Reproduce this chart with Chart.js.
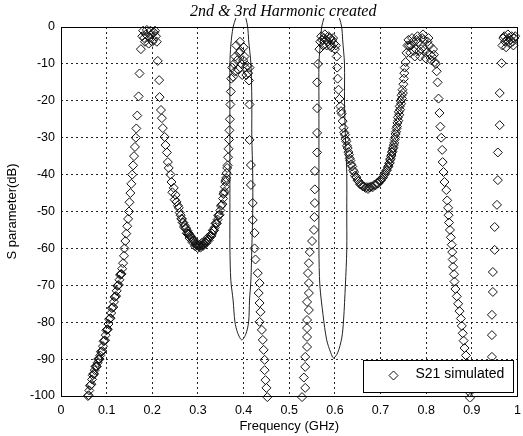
<!DOCTYPE html>
<html><head><meta charset="utf-8">
<script src="https://cdn.jsdelivr.net/npm/chart.js@4.4.0/dist/chart.umd.min.js"></script>
<style>html,body{margin:0;padding:0;background:#fff;overflow:hidden}</style>
</head><body>
<canvas id="c" width="523" height="436"></canvas>
<script>
// ---- tick values / labels ----
const xTicks = [0,0.1,0.2,0.3,0.4,0.5,0.6,0.7,0.8,0.9,1];
const xTickLabels = ['0','0.1','0.2','0.3','0.4','0.5','0.6','0.7','0.8','0.9','1'];
const yTicks = [0,-10,-20,-30,-40,-50,-60,-70,-80,-90,-100];
const yTickLabels = ['0','-10','-20','-30','-40','-50','-60','-70','-80','-90','-100'];

// ---- S21 simulated (frequency in GHz, value in dB) ----
const freq = [
 0.059,0.062,0.065,0.068,0.071,0.074,0.077,0.080,0.083,0.086,0.089,0.092,0.095,0.098,0.101,0.104,0.107,0.110,0.113,0.116,0.119,0.122,0.125,0.128,0.131,0.134,
 0.136,0.138,0.139,0.141,0.143,0.145,0.147,0.149,0.150,0.152,0.154,0.156,0.158,0.160,0.162,0.164,0.165,0.167,0.170,0.172,0.175,
 0.178,0.180,0.182,0.184,0.186,0.188,0.190,0.192,0.194,0.196,0.198,0.200,0.202,0.204,0.206,0.208,0.210,
 0.212,0.215,0.216,0.219,0.221,0.223,0.227,0.229,0.232,0.234,0.236,0.240,0.242,0.247,0.251,0.253,0.258,0.262,0.265,0.268,0.271,0.274,0.277,0.280,0.283,0.286,0.289,0.292,0.295,0.298,0.301,
 0.304,0.307,0.310,0.313,0.316,0.319,0.322,0.325,0.328,0.331,0.334,0.337,0.340,0.343,0.346,0.349,0.352,0.355,0.357,0.359,0.361,0.363,0.365,0.366,0.367,0.368,0.369,0.370,0.371,0.372,
 0.373,0.375,0.377,0.379,0.381,0.382,0.384,0.386,0.388,0.390,0.392,0.393,0.395,0.397,0.399,0.400,0.402,0.404,0.406,0.408,0.410,0.412,0.413,
 0.413,0.413,0.416,0.416,0.420,0.420,0.424,0.424,0.426,0.431,0.435,0.433,0.435,0.437,0.435,0.440,0.442,0.444,0.446,0.446,0.448,0.450,0.452,
 0.528,0.535,0.532,0.535,0.535,0.539,0.539,0.539,0.539,0.543,0.539,0.543,0.543,0.541,0.543,0.545,0.550,0.554,0.555,0.556,0.556,0.556,0.561,0.561,0.561,0.561,0.563,
 0.566,0.568,0.570,0.572,0.574,0.576,0.578,0.580,0.582,0.584,0.586,0.588,0.590,0.592,0.594,0.596,0.598,0.600,0.602,
 0.604,0.605,0.606,0.608,0.610,0.612,0.615,0.617,0.619,0.622,0.625,0.628,0.631,0.634,0.638,0.642,0.647,0.652,0.658,0.664,0.670,0.675,
 0.680,0.686,0.692,0.698,0.703,0.708,0.712,0.716,0.719,0.721,0.723,0.725,0.727,0.729,0.731,0.733,0.735,0.737,0.738,0.740,0.742,0.744,0.746,0.748,0.750,0.751,0.752,0.753,0.755,
 0.757,0.759,0.761,0.763,0.765,0.767,0.769,0.771,0.773,0.775,0.777,0.779,0.781,0.783,0.785,0.787,0.789,0.791,0.793,0.795,0.797,0.799,0.801,0.803,0.805,0.807,0.809,0.811,0.813,0.815,0.817,0.819,0.821,
 0.823,0.825,0.827,0.829,0.831,0.833,0.835,0.836,0.838,0.840,0.844,0.846,0.848,0.849,0.850,0.852,0.854,0.856,0.857,0.858,0.859,0.861,0.862,0.864,0.867,0.870,0.873,0.876,0.878,0.880,0.882,0.884,0.887,0.889,0.891,0.892,0.894,0.895,0.896,
 0.942,0.944,0.944,0.944,0.946,0.946,0.950,0.950,0.955,0.957,0.957,0.961,0.961,0.965,
 0.967,0.969,0.971,0.973,0.975,0.977,0.979,0.981,0.983,0.985,0.987,0.989,0.991,0.993,0.995,
 0.0605,0.0635,0.0665,0.0695,0.0725,0.0755,0.0785,0.0815,0.0845,0.0875,0.0905,0.0935,0.0965,0.0995,0.1025,0.1055,0.1085,0.1115,0.1145,0.1175,0.1205,0.1235,0.1265,0.1295,0.1325,
 0.244,0.249,0.256,0.260,0.2635,0.2665,0.2695,0.2725,0.2755,0.2785,0.2815,0.2845,0.2875,0.2905,0.2935,0.2965,0.2995,0.3025,0.3055,0.3085,0.3115,0.3145,0.3175,0.3205,0.3235,0.3265,0.3295,0.3325,0.3355,0.3385,0.3415,0.3445,0.3475,0.3505,0.3535,0.356,0.358,0.360,0.362,0.364,
 0.6135,0.6205,0.6235,0.6265,0.6295,0.6325,0.6355,0.640,0.644,0.6495,0.655,0.661,0.667,0.6725,0.6775,0.683,0.689,0.695,0.7005,0.7055,0.710,0.714,0.7175,0.720,0.722,0.724,0.726,0.728,0.730,0.732,0.734,0.736,0.739,0.741,0.743,0.745,0.747,0.749
];
const s21 = [
 -100,-98.5,-97,-95.5,-94,-93,-92,-91,-90,-89,-88,-86.5,-85,-83.5,-82,-80.5,-79,-77.5,-76,-74.5,-73,-71.5,-70,-68.5,-67,-65.5,
 -64,-62,-60,-58,-56,-54,-52,-50,-47.5,-45,-42.5,-40,-37.5,-35,-32.5,-30,-27.5,-24,-18.8,-12.6,-6,
 -2.5,-1,-3,-4,-2,-0.8,-2.5,-4.5,-3,-1,-2,-4,-3.5,-1.5,-1,-2.5,-4,
 -9.2,-14.4,-19,-22.5,-24.7,-27.4,-29.8,-32,-34,-36.6,-38.2,-40,-42,-43.6,-45.5,-47.4,-49,-51,-52,-53,-53.8,-54.5,-55.2,-55.9,-56.5,-57.1,-57.7,-58.3,-58.8,-59.2,-59.4,
 -59.4,-59.3,-59.1,-58.8,-58.4,-58,-57.6,-57.2,-56.7,-56,-55.2,-54.3,-53.3,-52.2,-51,-49.7,-48.2,-46.5,-45,-43.3,-41.5,-39.6,-37.5,-35.3,-33,-30.5,-28,-25,-21,-17.5,
 -14,-11,-13.5,-10,-12,-8,-5,-9,-11.5,-7,-4,-6.5,-10,-13,-9,-5.5,-8,-11,-13,-10.5,-12.5,-14.5,-11,
 -21,-30.6,-37.4,-42.8,-47.7,-52.3,-55.8,-60,-63,-66.7,-69.4,-72.1,-74.8,-77.2,-79.9,-82.1,-84.8,-87.5,-90.2,-93,-95.7,-97.8,-100.3,
 -100.3,-97.8,-95,-92.1,-89.4,-86.7,-84,-81.6,-79.4,-76.7,-74.5,-72.1,-69.4,-66.7,-64,-61,-58,-55,-51.5,-47.7,-44,-39,-34,-28.7,-22,-15,-10,
 -6,-4,-2.5,-3.5,-5,-3,-2,-3.5,-5,-4,-2.5,-3,-5,-5.5,-3.5,-3,-4.5,-6,-5,
 -8,-11,-14,-17,-19.5,-21.5,-23.5,-25.5,-27.3,-29.2,-31,-32.8,-34.6,-36.2,-37.8,-39.3,-40.7,-41.8,-42.7,-43.2,-43.4,-43.4,
 -43.2,-42.8,-42.3,-41.7,-41,-40,-39,-38,-37,-36,-35,-34,-33,-32,-30.5,-29,-27.5,-26,-24.5,-23,-21.5,-20,-18.5,-17,-15.5,-14,-12.5,-11,-9.5,
 -7,-5,-3.5,-5,-7,-5,-3,-4,-6.5,-8,-6,-3.5,-2.5,-4,-6.5,-8,-6,-3,-2,-3.5,-6,-8.5,-7,-4,-3,-5,-7.5,-9,-8,-6,-7.5,-9.5,-10,
 -12,-15,-19.4,-23.3,-27,-30,-33.3,-36.6,-39.3,-42,-44.2,-47,-49,-51,-53,-55,-57,-59,-61,-63,-65,-67,-69,-71,-73,-75,-77,-79,-81,-83,-85,-87,-89,-91,-93,-95,-97,-99,-100.5,
 -95,-89.4,-83.5,-78,-71.8,-66.4,-60.4,-54.2,-48.2,-41.5,-34,-26.6,-17.9,-9.8,
 -5,-3,-2.5,-4,-5.5,-3.5,-2,-3,-4.5,-3.5,-2.5,-4,-5,-3,-2.5,
 -99.8,-97.2,-96.8,-94.4,-94.0,-92.0,-92.0,-90.0,-90.0,-88.0,-87.8,-85.2,-84.9,-82.2,-81.9,-79.2,-78.9,-76.2,-75.9,-73.2,-72.9,-70.2,-69.9,-67.2,-66.9,
 -44.8,-46.8,-48.4,-50.3,-52.0,-53.0,-54.2,-54.6,-55.9,-56.0,-57.2,-56.9,-58.3,-57.7,-59.4,-58.8,-59.9,-59.0,-59.8,-58.5,-59.3,-58.1,-58.6,-57.2,-57.8,-56.5,-56.6,-55.1,-55.1,-53.2,-53.2,-51.1,-50.9,-48.5,-48.0,-45.3,-44.6,-42.0,-40.9,-38.2,
 -22.8,-28.6,-30.4,-32.2,-33.9,-35.6,-37.2,-38.8,-40.3,-41.5,-42.6,-43.2,-43.6,-43.9,-43.5,-43.4,-42.9,-42.4,-41.6,-40.8,-39.8,-38.8,-37.7,-36.8,-35.7,-34.7,-33.7,-32.7,-31.4,-29.9,-28.4,-27,-25.4,-23.8,-22.4,-20.8,-19.4,-17.9
];

// ---- annotation outlines around the 2nd & 3rd harmonic (GHz, dB) ----
const harm2X = [0.383,0.377,0.372,0.370,0.370,0.370,0.370,0.370,0.370,0.372,0.377,0.381,0.387,0.396,0.405,0.411,0.413,0.416,0.418,0.420,0.420,0.418,0.418,0.416,0.411,0.409,0.405];
const harm2Y = [2.4,0,-4.9,-10,-19.8,-29.8,-39.8,-50.1,-59.9,-68.6,-74,-79.9,-82.9,-84.8,-83.2,-79.9,-74,-68.6,-59.9,-50.1,-39.8,-29.8,-19.8,-10,-3.5,0,2.4];
const harm3X = [0.576,0.571,0.567,0.565,0.565,0.565,0.565,0.565,0.565,0.567,0.574,0.582,0.591,0.597,0.606,0.615,0.619,0.623,0.626,0.626,0.626,0.623,0.621,0.621,0.617,0.615,0.610];
const harm3Y = [2.4,0,-6.2,-10,-19.8,-29.8,-39.8,-50.1,-60.4,-69.9,-78,-84.8,-88.3,-89.7,-88.3,-84.3,-79.4,-69.9,-60.4,-50.1,-39.8,-29.8,-19.8,-10,-3.5,0,2.4];

const titleText = '2nd & 3rd Harmonic created';
const legendText = 'S21 simulated';

const zip = (xs, ys) => xs.map((x, i) => ({x: x, y: ys[i]}));

const framePlugin = {
  id: 'frame',
  afterDatasetsDraw(chart) {
    const {ctx, chartArea: a} = chart;
    ctx.save();
    ctx.setLineDash([]);
    ctx.strokeStyle = '#000';
    ctx.lineWidth = 1;
    const l = Math.round(a.left) + 0.5, t = Math.round(a.top) + 0.5;
    const r = Math.round(a.right) - 0.5, b = Math.round(a.bottom) + 0.5;
    ctx.strokeRect(l, t, r - l, b - t);
    // legend box (inside axes, lower right)
    const lx = Math.round(a.right) - 155 + 0.5, ly = Math.round(a.bottom) - 36 + 0.5, lw = 150, lh = 32;
    ctx.fillStyle = '#fff';
    ctx.fillRect(lx, ly, lw, lh);
    ctx.strokeRect(lx, ly, lw, lh);
    const cx = lx + 30, cy = ly + 15, rr = 4.5;
    ctx.strokeStyle = '#111';
    ctx.beginPath();
    ctx.moveTo(cx, cy - rr); ctx.lineTo(cx + rr, cy); ctx.lineTo(cx, cy + rr); ctx.lineTo(cx - rr, cy); ctx.closePath();
    ctx.stroke();
    ctx.fillStyle = '#000';
    ctx.font = '14px "Liberation Sans", Arial, sans-serif';
    ctx.textBaseline = 'middle';
    ctx.textAlign = 'left';
    ctx.fillText(legendText, lx + 52, ly + 14);
    ctx.restore();
  },
  afterDraw(chart) {
    const {ctx, chartArea: a} = chart;
    ctx.save();
    ctx.fillStyle = '#000';
    ctx.font = 'italic 16px "Liberation Serif", "Times New Roman", serif';
    ctx.textAlign = 'center';
    ctx.textBaseline = 'alphabetic';
    ctx.fillText(titleText, (a.left + a.right) / 2 - 6, 16);
    ctx.restore();
  }
};

const tickFont = {family: '"Liberation Sans", Arial, sans-serif', size: 12.5};
const titleFont = {family: '"Liberation Sans", Arial, sans-serif', size: 13};

new Chart(document.getElementById('c').getContext('2d'), {
  type: 'scatter',
  data: {
    datasets: [
      {label: legendText, data: zip(freq, s21), pointStyle: 'rectRot', pointRadius: 4.5, pointBorderWidth: 1,
       borderColor: '#111', backgroundColor: 'rgba(0,0,0,0)', showLine: false, clip: 6},
      {label: '2nd harmonic', data: zip(harm2X, harm2Y), showLine: true, pointRadius: 0, borderColor: '#222',
       borderWidth: 1, tension: 0.3, fill: false, clip: false},
      {label: '3rd harmonic', data: zip(harm3X, harm3Y), showLine: true, pointRadius: 0, borderColor: '#222',
       borderWidth: 1, tension: 0.3, fill: false, clip: false}
    ]
  },
  options: {
    responsive: false, animation: false, devicePixelRatio: 1,
    layout: {padding: {top: 27, right: 1, bottom: 0, left: 0}},
    plugins: {legend: {display: false}, title: {display: false}, tooltip: {enabled: false}},
    scales: {
      x: {
        type: 'linear', min: 0, max: 1,
        afterBuildTicks: s => { s.ticks = xTicks.map(v => ({value: v})); },
        afterFit: s => { s.height = 40; s.paddingLeft = 0; s.paddingRight = 0; },
        ticks: {callback: (v, i) => xTickLabels[i], padding: 7, font: tickFont, color: '#000', maxRotation: 0, autoSkip: false},
        grid: {color: 'rgba(0,0,0,0.85)', drawTicks: false, lineWidth: 1},
        border: {display: false, dash: [2, 3]},
        title: {display: true, text: 'Frequency (GHz)', font: titleFont, color: '#000', padding: {top: 2, bottom: 2}}
      },
      y: {
        type: 'linear', min: -100, max: 0,
        afterBuildTicks: s => { s.ticks = yTicks.map(v => ({value: v})); },
        afterFit: s => { s.width = 61; },
        ticks: {callback: (v, i) => yTickLabels[i], padding: 6, font: tickFont, color: '#000', autoSkip: false},
        grid: {color: 'rgba(0,0,0,0.85)', drawTicks: false, lineWidth: 1},
        border: {display: false, dash: [2, 3]},
        title: {display: true, text: 'S parameter(dB)', font: titleFont, color: '#000', padding: {top: 5, bottom: 2}}
      }
    }
  },
  plugins: [framePlugin]
});
</script>
</body></html>
